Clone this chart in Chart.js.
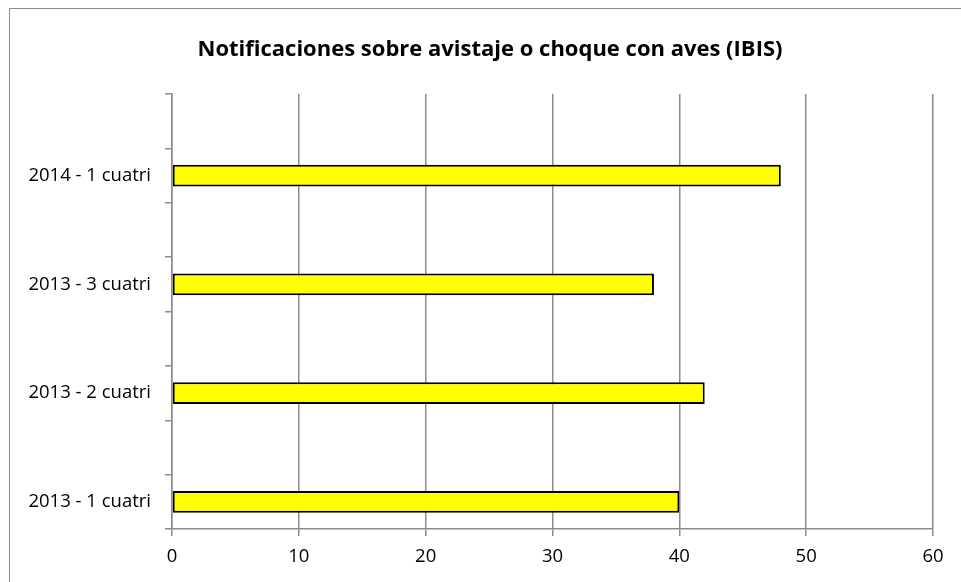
<!DOCTYPE html>
<html>
<head>
<meta charset="utf-8">
<script src="https://cdn.jsdelivr.net/npm/chart.js@4"></script>
<style>
    html, body { margin: 0; padding: 0; background: #fff; overflow: hidden; }
    #frame { position: absolute; left: 9px; top: 8px; width: 1000px; height: 700px; border: 1px solid #8a8a8a; box-sizing: border-box; }
    #wrap { position: absolute; left: 0; top: 0; width: 961px; height: 582px; }
    #title { position: absolute; left: 190px; width: 600px; top: 32px; text-align: center;
             font: bold 22px 'Open Sans'; line-height: 30px; color: #000; white-space: nowrap; }
</style>
</head>
<body>
<div id="frame"></div>
<div id="wrap"><canvas id="birdChart"></canvas></div>
<div id="title">Notificaciones sobre avistaje o choque con aves (IBIS)</div>
<script>
// Data, top to bottom as in the picture (blank rows sit between the periods)
const categories = ['2014 - 1 cuatri', '2013 - 3 cuatri', '2013 - 2 cuatri', '2013 - 1 cuatri'];
const notifications = [48, 38, 42, 40];
const xTicks = [0, 10, 20, 30, 40, 50, 60];

const labels = [];
const values = [];
categories.forEach((c, i) => {
    labels.push('');
    values.push(null);
    labels.push(c);
    values.push(notifications[i]);
});

const gridGray = '#8c8c8c';
const tickFont = { family: 'Open Sans', size: 18.5 };

new Chart(document.getElementById('birdChart'), {
    type: 'bar',
    data: {
        labels: labels,
        datasets: [{
            data: values,
            backgroundColor: '#ffff00',
            borderColor: '#000000',
            borderWidth: 2,
            borderSkipped: false,
            barPercentage: 0.4,
            categoryPercentage: 1
        }]
    },
    options: {
        indexAxis: 'y',
        responsive: true,
        maintainAspectRatio: false,
        animation: false,
        layout: { padding: { left: 0, right: 28, top: 94, bottom: 0 } },
        plugins: {
            legend: { display: false },
            tooltip: { enabled: false },
            title: { display: false }
        },
        scales: {
            x: {
                min: 0,
                max: 60,
                afterBuildTicks: s => { s.ticks = xTicks.map(v => ({ value: v })); },
                afterFit: s => { s.height = 53; },
                grid: { color: gridGray, lineWidth: 1.5, tickLength: 7, drawTicks: true },
                border: { display: true, color: gridGray, width: 1.5 },
                ticks: { color: '#000', font: tickFont, padding: 10, maxRotation: 0 }
            },
            y: {
                afterFit: s => { s.width = 172; },
                grid: { display: true, drawOnChartArea: false, color: gridGray, lineWidth: 1.5, tickLength: 7 },
                border: { display: true, color: gridGray, width: 1.5 },
                ticks: { color: '#000', font: tickFont, padding: 14, autoSkip: false }
            }
        }
    }
});
</script>
</body>
</html>
